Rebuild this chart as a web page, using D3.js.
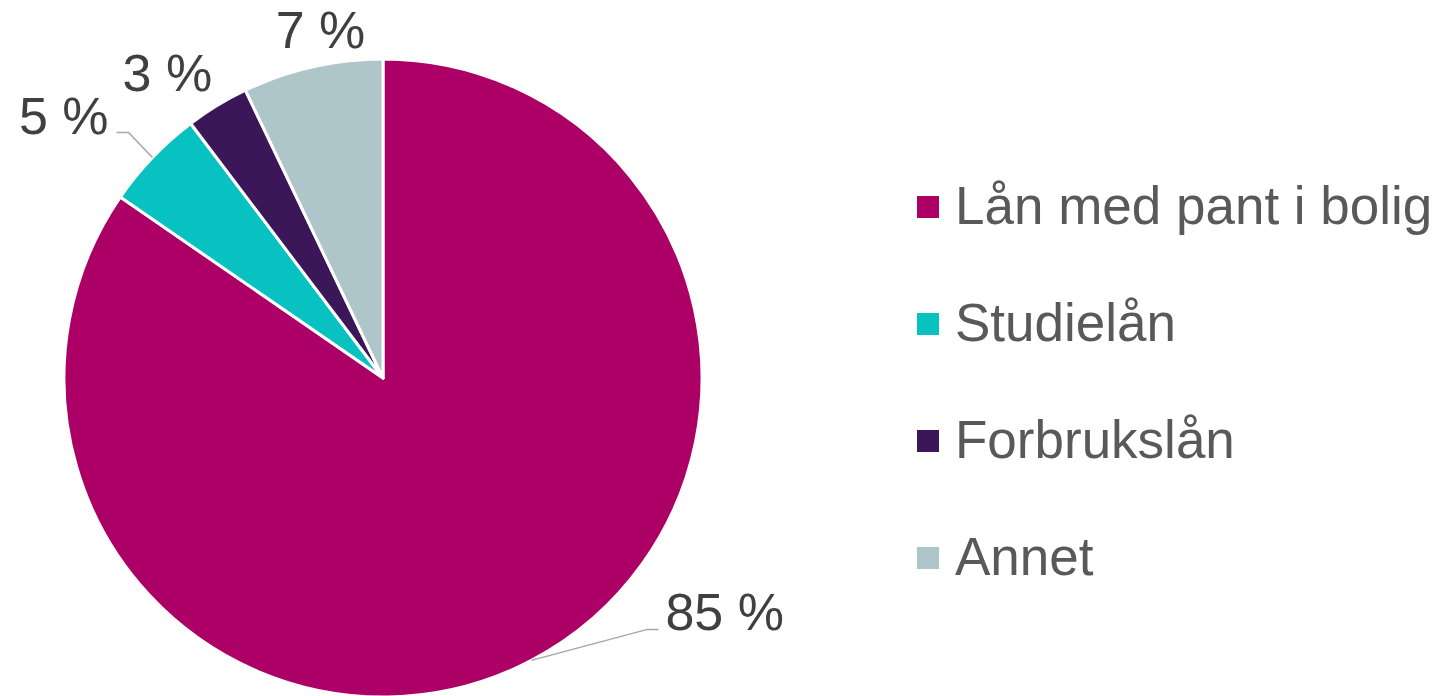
<!DOCTYPE html>
<html>
<head>
<meta charset="utf-8">
<script src="https://cdn.jsdelivr.net/npm/d3@7"></script>
<style>
  body { margin: 0; background: #fff; }
  text { font-family: "Liberation Sans", Arial, sans-serif; }
</style>
</head>
<body>
<div id="chart"></div>
<script>
// data
var categories = ["Lån med pant i bolig", "Studielån", "Forbrukslån", "Annet"];
var shares = [84.6, 5.1, 3.2, 7.1];
var colors = ["#AC0066", "#08C2C2", "#3B1659", "#AEC5CA"];

// dimensions
var width = 1443, height = 696;
var cx = 383, cy = 378, radius = 319;

var svg = d3.select("#chart").append("svg")
    .attr("width", width)
    .attr("height", height);

var pieG = svg.append("g")
    .attr("transform", "translate(" + cx + "," + cy + ")");

var pie = d3.pie().sort(null).value(function(d) { return d.value; });
var arc = d3.arc().innerRadius(0).outerRadius(radius);

var data = categories.map(function(c, i) { return {name: c, value: shares[i], color: colors[i]}; });
var arcs = pie(data);

// slices
pieG.selectAll("path.slice")
    .data(arcs)
  .enter().append("path")
    .attr("class", "slice")
    .attr("d", arc)
    .attr("fill", function(d) { return d.data.color; })
    .attr("stroke", "#fff")
    .attr("stroke-width", 3)
    .attr("stroke-linejoin", "round");

// point on the pie edge at mid angle
function edge(d, r) {
  var a = (d.startAngle + d.endAngle) / 2;
  return [Math.sin(a) * r, -Math.cos(a) * r];
}

// label placement (offsets from the edge point), leader for some
var labelCfg = [
  {dx: 134, dy: -30, anchor: "start", leader: true, elbow: [116, -31], elbowEnd: [127, -31]},
  {dx: -44, dy: -23, anchor: "end", leader: true, elbow: [-24, -25], elbowEnd: [-36, -25]},
  {dx: -5, dy: -15, anchor: "end", leader: false},
  {dx: 8, dy: -19, anchor: "middle", leader: false}
];

arcs.forEach(function(d, i) {
  var p = edge(d, radius);
  var cfg = labelCfg[i];
  if (cfg.leader) {
    pieG.append("polyline")
      .attr("points", [p, [p[0] + cfg.elbow[0], p[1] + cfg.elbow[1]], [p[0] + cfg.elbowEnd[0], p[1] + cfg.elbowEnd[1]]].map(function(q) { return q.join(","); }).join(" "))
      .attr("fill", "none")
      .attr("stroke", "#A6A6A6")
      .attr("stroke-width", 1.5);
  }
  pieG.append("text")
    .attr("x", p[0] + cfg.dx)
    .attr("y", p[1] + cfg.dy)
    .attr("text-anchor", cfg.anchor)
    .attr("font-size", 52)
    .attr("fill", "#404040")
    .text(Math.round(d.data.value) + " %");
});

// legend
var legend = svg.append("g")
    .attr("transform", "translate(917,207)");

var rowH = 117;
var items = legend.selectAll("g.item")
    .data(data)
  .enter().append("g")
    .attr("class", "item")
    .attr("transform", function(d, i) { return "translate(0," + (i * rowH) + ")"; });

items.append("rect")
    .attr("x", 0)
    .attr("y", -11)
    .attr("width", 22)
    .attr("height", 22)
    .attr("fill", function(d) { return d.color; });

items.append("text")
    .attr("x", 38)
    .attr("y", 17)
    .attr("font-size", 53)
    .attr("fill", "#595959")
    .text(function(d) { return d.name; });
</script>
</body>
</html>
